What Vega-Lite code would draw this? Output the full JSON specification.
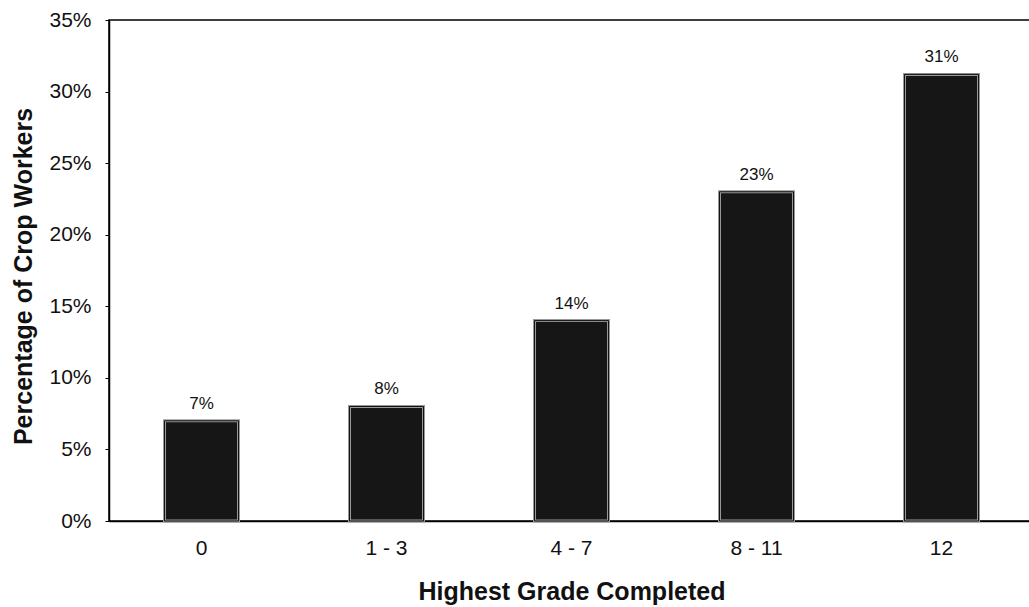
{
  "$schema": "https://vega.github.io/schema/vega-lite/v6.json",
  "autosize": "none",
  "width": 925,
  "height": 501,
  "padding": {"left": 109, "top": 20, "right": 0, "bottom": 86},
  "background": "white",
  "config": {
    "view": {"stroke": "black", "strokeWidth": 1.5},
    "font": "Liberation Sans"
  },
  "data": {
    "values": [
      {"grade": "0", "pct": 0.07},
      {"grade": "1 - 3", "pct": 0.08},
      {"grade": "4 - 7", "pct": 0.14},
      {"grade": "8 - 11", "pct": 0.23},
      {"grade": "12", "pct": 0.312}
    ]
  },
  "encoding": {
    "x": {
      "field": "grade",
      "type": "nominal",
      "sort": null,
      "scale": {"paddingInner": 0.6, "paddingOuter": 0.3},
      "axis": {
        "title": "Highest Grade Completed",
        "titleFont": "Liberation Sans",
        "titleFontSize": 25,
        "titleFontWeight": "bold",
        "titleColor": "#111",
        "titlePadding": 21,
        "labelAngle": 0,
        "labelFont": "Liberation Sans",
        "labelFontSize": 21,
        "labelColor": "#111",
        "labelPadding": 16,
        "ticks": false,
        "domainColor": "black",
        "domainWidth": 1.5
      }
    },
    "y": {
      "field": "pct",
      "type": "quantitative",
      "scale": {"domain": [0, 0.35], "nice": false},
      "axis": {
        "title": "Percentage of Crop Workers",
        "titleFont": "Liberation Sans",
        "titleFontSize": 25,
        "titleFontWeight": "bold",
        "titleColor": "#111",
        "titlePadding": 12,
        "titleY": 256,
        "values": [0, 0.05, 0.1, 0.15, 0.2, 0.25, 0.3, 0.35],
        "format": ".0%",
        "labelFont": "Liberation Sans",
        "labelFontSize": 21,
        "labelColor": "#111",
        "labelPadding": 14,
        "grid": false,
        "tickColor": "black",
        "tickSize": 4,
        "domainColor": "black",
        "domainWidth": 1.5
      }
    }
  },
  "layer": [
    {
      "mark": {"type": "bar", "fill": "#161616", "stroke": "#999", "strokeWidth": 3}
    },
    {
      "mark": {"type": "bar", "fill": null, "stroke": "#111", "strokeWidth": 1}
    },
    {
      "mark": {"type": "text", "dy": -12, "baseline": "alphabetic", "fontSize": 17, "color": "#111", "font": "Liberation Sans"},
      "encoding": {
        "text": {"field": "pct", "type": "quantitative", "format": ".0%"}
      }
    }
  ]
}
